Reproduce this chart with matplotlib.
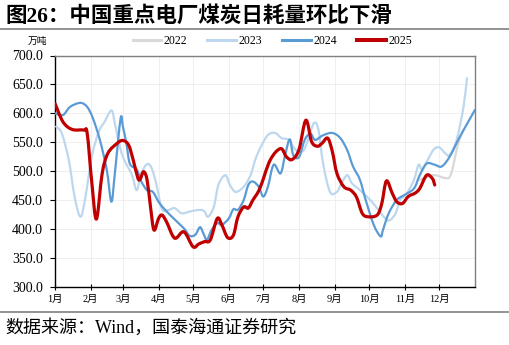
import matplotlib
matplotlib.use('Agg')
import matplotlib.pyplot as plt
from matplotlib.path import Path
from matplotlib.patches import PathPatch
from matplotlib.lines import Line2D
import numpy as np

# ---- data (day offset from Jan 1, value in 万吨) ----
days_2022 = [317, 323, 330, 339, 343, 346, 349, 352, 355]
vals_2022 = [485, 490, 493, 488, 490, 508, 537, 557, 572]

days_2023 = [1, 6, 12, 17, 22, 26, 32, 38, 43, 49, 52, 57, 61, 67, 71, 75, 80, 84, 88,
             93, 99, 104, 110, 117, 126, 130, 133, 138, 142, 148, 152, 157, 164, 170,
             175, 184, 191, 197, 203, 209, 215, 219, 225, 229, 233, 239, 245, 249, 254,
             258, 265, 274, 281, 287, 291, 296, 300, 306, 312, 316, 319, 323, 329, 334,
             339, 343, 349, 355, 358]
vals_2023 = [577, 565, 519, 456, 421, 450, 525, 568, 585, 605, 583, 537, 516, 493, 467,
             496, 512, 505, 478, 434, 433, 436, 427, 430, 433, 430, 421, 438, 476, 493,
             476, 464, 473, 493, 525, 560, 566, 557, 554, 537, 534, 549, 583, 571, 513,
             464, 464, 479, 493, 479, 467, 450, 433, 418, 415, 427, 450, 462, 485, 511,
             502, 516, 537, 541, 531, 528, 554, 611, 661]

days_2024 = [0, 7, 13, 22, 28, 33, 39, 45, 49, 52, 57, 59, 62, 65, 70, 72, 75, 80, 85,
             91, 100, 112, 117, 122, 126, 129, 132, 136, 141, 145, 151, 155, 159, 164,
             168, 172, 177, 181, 185, 190, 196, 200, 204, 207, 212, 217, 222, 226, 233,
             241, 248, 254, 259, 265, 270, 277, 283, 285, 290, 297, 304, 312, 317, 323,
             330, 336, 343, 352, 365]
vals_2024 = [600, 597, 611, 618, 611, 591, 554, 502, 447, 496, 591, 577, 548, 513, 505,
             499, 482, 467, 464, 444, 424, 401, 388, 390, 403, 392, 381, 398, 410, 407,
             418, 434, 433, 450, 476, 482, 473, 456, 473, 511, 496, 528, 555, 528, 524,
             554, 565, 554, 562, 566, 557, 536, 508, 485, 450, 407, 387, 398, 427, 450,
             459, 470, 493, 513, 511, 508, 525, 560, 606]

days_2025 = [0, 7, 15, 25, 28, 32, 36, 41, 46, 54, 59, 64, 68, 72, 74, 77, 80, 83, 86,
             90, 93, 97, 104, 112, 120, 125, 130, 135, 141, 145, 150, 155, 159, 164,
             168, 172, 178, 187, 196, 201, 206, 212, 218, 223, 228, 232, 237, 241, 245,
             251, 257, 262, 267, 272, 280, 284, 288, 293, 297, 302, 307, 313, 317, 323,
             328, 330]
vals_2025 = [617, 585, 572, 571, 565, 480, 417, 496, 531, 548, 553, 545, 519, 488, 486,
             499, 485, 438, 398, 418, 424, 412, 384, 395, 369, 374, 378, 381, 418, 407,
             385, 389, 421, 438, 436, 450, 470, 519, 539, 525, 520, 537, 588, 551, 543,
             548, 557, 534, 496, 473, 467, 455, 427, 421, 424, 444, 483, 462, 447, 444,
             456, 462, 470, 493, 487, 476]

series_names = ['2022', '2023', '2024', '2025']
month_starts = [0, 31, 59, 90, 120, 151, 181, 212, 243, 273, 304, 334]
month_labels = ['1月', '2月', '3月', '4月', '5月', '6月', '7月', '8月', '9月', '10月', '11月', '12月']
y_ticks = [300, 350, 400, 450, 500, 550, 600, 650, 700]

colors = ['#D9D9D9', '#BDD7EE', '#5B9BD5', '#C00000']
widths = [1.6, 1.6, 1.6, 2.3]

SERIF = ['Liberation Serif', 'Noto Sans CJK SC']
CJK = ['Noto Sans CJK SC', 'DejaVu Sans']


def smooth_path(x, y):
    pts = np.column_stack([x, y]).astype(float)
    n = len(pts)
    verts = [pts[0]]
    codes = [Path.MOVETO]
    for i in range(n - 1):
        p0 = pts[i - 1] if i > 0 else pts[i]
        p1 = pts[i]
        p2 = pts[i + 1]
        p3 = pts[i + 2] if i + 2 < n else pts[i + 1]
        c1 = p1 + (p2 - p0) / 6.0
        c2 = p2 - (p3 - p1) / 6.0
        verts += [c1, c2, p2]
        codes += [Path.CURVE4] * 3
    return Path(verts, codes)


fig = plt.figure(figsize=(5.1, 3.45), dpi=100)
ax = fig.add_axes([55 / 510, 1 - 286.7 / 345, 420 / 510, 231.2 / 345])

data = [(days_2022, vals_2022), (days_2023, vals_2023), (days_2024, vals_2024), (days_2025, vals_2025)]
handles = []
for (d, v), c, w, name in zip(data, colors, widths, series_names):
    patch = PathPatch(smooth_path(d, v), fill=False, edgecolor=c, lw=w,
                      capstyle='round', joinstyle='round', zorder=3)
    ax.add_patch(patch)
    handles.append(Line2D([0], [0], color=c, lw=w + 0.6, label=name))

ax.set_xlim(0, 365)
ax.set_ylim(300, 700)
ax.set_yticks(y_ticks)
ax.set_yticklabels([f'{t:.1f}' for t in y_ticks], fontfamily='Liberation Serif', fontsize=10)
ax.set_xticks(month_starts)
ax.set_xticklabels(month_labels, fontfamily=SERIF, fontsize=7.5)
ax.tick_params(axis='y', direction='out', length=3.5, width=0.8, pad=5, colors='black')
ax.tick_params(axis='x', direction='inout', length=5, width=0.8, pad=3.5, colors='black')
ax.grid(True, color='#ececec', lw=0.6, zorder=0)
ax.set_axisbelow(True)
for s in ['left', 'bottom']:
    ax.spines[s].set_color('black')
    ax.spines[s].set_linewidth(1.0)
for s in ['top', 'right']:
    ax.spines[s].set_color('#7f7f7f')
    ax.spines[s].set_linewidth(1.0)

leg = fig.legend(handles=handles, loc='center', bbox_to_anchor=(272.5 / 510, 1 - 41 / 345),
                 ncol=4, frameon=False, prop={'family': 'Liberation Serif', 'size': 8.5},
                 handlelength=2.4, handletextpad=0.25, columnspacing=1.7, borderaxespad=0)

fig.text(28 / 510, 1 - 41 / 345, '万吨', fontfamily=CJK, fontsize=7, va='center', ha='left')

fig.text(5 / 510, 1 - 17 / 345, '图26：中国重点电厂煤炭日耗量环比下滑', fontfamily=SERIF,
         fontsize=15.5, fontweight='bold', va='center', ha='left')
fig.add_artist(Line2D([0, 1], [1 - 29.3 / 345, 1 - 29.3 / 345], transform=fig.transFigure,
                      color='#808080', lw=1.2))
fig.add_artist(Line2D([0, 1], [1 - 311.7 / 345, 1 - 311.7 / 345], transform=fig.transFigure,
                      color='#808080', lw=1.2))
fig.text(5 / 510, 1 - 328 / 345, '数据来源：Wind，国泰海通证券研究', fontfamily=SERIF,
         fontsize=13, va='center', ha='left')

fig.savefig('out.png', dpi=100)
